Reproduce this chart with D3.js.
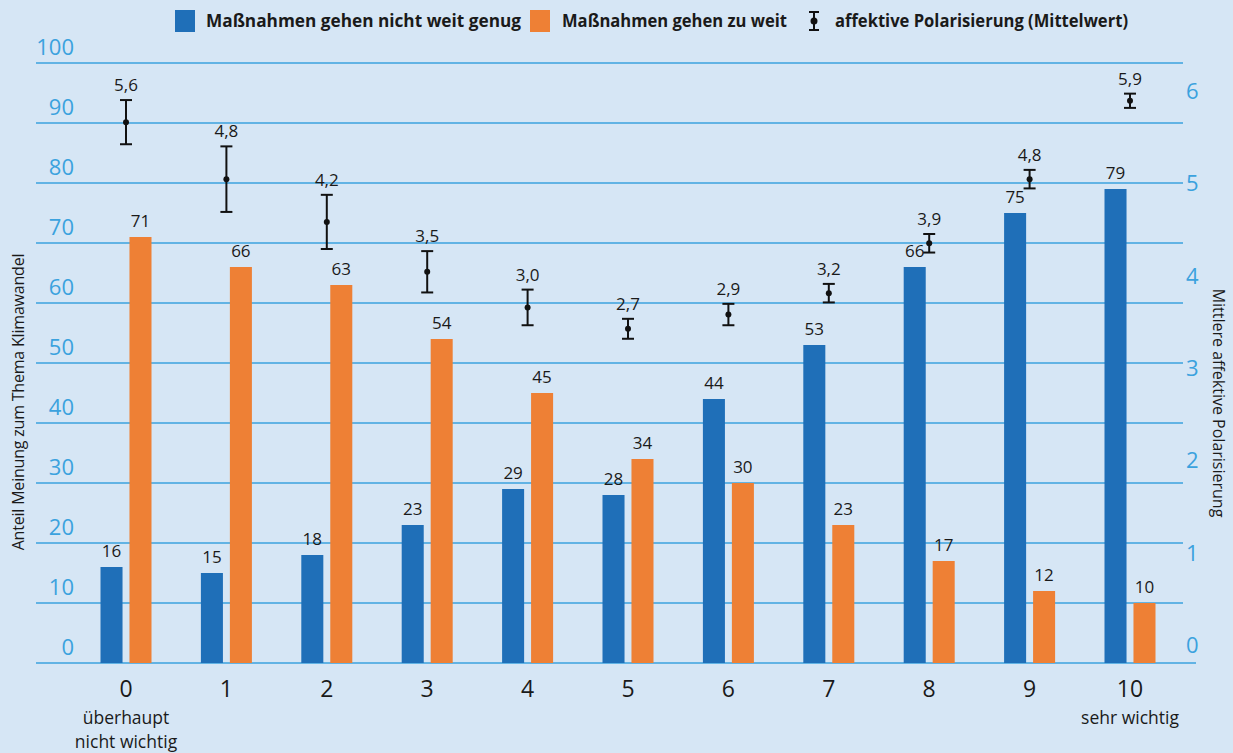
<html>

<head>
    <meta charset="utf-8">
    <title>Klimawandel Polarisierung</title>
    <style>
        body {
            margin: 0;
            background: #d6e6f5;
        }

        text {
            font-family: "Open Sans", sans-serif;
        }
    </style>
    <script src="https://cdn.jsdelivr.net/npm/d3@7"></script>
</head>

<body>
</body>
<script>
    // data
    var categories = ["0", "1", "2", "3", "4", "5", "6", "7", "8", "9", "10"];
    var nichtWeitGenug = [16, 15, 18, 23, 29, 28, 44, 53, 66, 75, 79];
    var zuWeit = [71, 66, 63, 54, 45, 34, 30, 23, 17, 12, 10];
    var polMean = [5.6, 4.8, 4.2, 3.5, 3.0, 2.7, 2.9, 3.2, 3.9, 4.8, 5.9];
    var polErr = [0.31, 0.46, 0.38, 0.29, 0.25, 0.14, 0.15, 0.13, 0.13, 0.13, 0.1];
    var leftTicks = [0, 10, 20, 30, 40, 50, 60, 70, 80, 90, 100];
    var rightTicks = [0, 1, 2, 3, 4, 5, 6];
    var seriesNames = ["Maßnahmen gehen nicht weit genug", "Maßnahmen gehen zu weit"];
    var errName = "affektive Polarisierung (Mittelwert)";

    var width = 1233,
        height = 753;
    var blue = "#1f6fb8",
        orange = "#ee8035",
        grid = "#3ba2de",
        ink = "#1a1a1a";

    var svg = d3.select("body").append("svg")
        .attr("width", width)
        .attr("height", height);

    svg.append("rect")
        .attr("width", width)
        .attr("height", height)
        .attr("fill", "#d6e6f5");

    var x = d3.scalePoint()
        .domain(categories)
        .range([126, 1130]);

    var x1 = d3.scaleBand()
        .domain(["a", "b"])
        .range([-25.5, 25.5])
        .paddingInner(0.24);

    var y = d3.scaleLinear()
        .domain([0, 100])
        .range([663, 63]);

    // right axis labels
    var yRight = d3.scaleLinear()
        .domain([0, 6.5])
        .range([663, 63]);

    // the error bars in the original sit on their own (shifted) scale
    var yPol = d3.scaleLinear()
        .domain([-1.99, 6.43])
        .range([663, 63]);

    var comma = function(v) {
        return d3.format(".1f")(v).replace(".", ",");
    };

    // gridlines
    svg.append("g").selectAll("line")
        .data(leftTicks)
        .enter()
        .append("line")
        .attr("x1", 36)
        .attr("x2", function(d) {
            return d === 0 ? 1196 : 1183;
        })
        .attr("y1", function(d) {
            return y(d);
        })
        .attr("y2", function(d) {
            return y(d);
        })
        .attr("stroke", grid)
        .attr("stroke-width", 1.4);

    // left tick labels
    svg.append("g").selectAll("text")
        .data(leftTicks)
        .enter()
        .append("text")
        .attr("x", 74)
        .attr("y", function(d) {
            return y(d) - 8;
        })
        .attr("text-anchor", "end")
        .attr("fill", grid)
        .style("font-size", "22px")
        .text(function(d) {
            return d;
        });

    // right tick labels
    svg.append("g").selectAll("text")
        .data(rightTicks)
        .enter()
        .append("text")
        .attr("x", 1186)
        .attr("y", function(d) {
            return yRight(d) - 10;
        })
        .attr("fill", grid)
        .style("font-size", "22px")
        .text(function(d) {
            return d;
        });

    // axis titles
    svg.append("text")
        .attr("transform", "translate(24,402) rotate(-90)")
        .attr("text-anchor", "middle")
        .attr("fill", ink)
        .style("font-size", "16px")
        .style("letter-spacing", "-0.2px")
        .text("Anteil Meinung zum Thema Klimawandel");

    svg.append("text")
        .attr("transform", "translate(1213,403) rotate(90)")
        .attr("text-anchor", "middle")
        .attr("fill", ink)
        .style("font-size", "16px")
        .text("Mittlere affektive Polarisierung");

    // bars
    var groups = svg.append("g").selectAll("g")
        .data(categories)
        .enter()
        .append("g")
        .attr("transform", function(d) {
            return "translate(" + x(d) + ",0)";
        });

    groups.append("rect")
        .attr("x", x1("a"))
        .attr("width", x1.bandwidth())
        .attr("y", function(d, i) {
            return y(nichtWeitGenug[i]);
        })
        .attr("height", function(d, i) {
            return y(0) - y(nichtWeitGenug[i]);
        })
        .attr("fill", blue);

    groups.append("rect")
        .attr("x", x1("b"))
        .attr("width", x1.bandwidth())
        .attr("y", function(d, i) {
            return y(zuWeit[i]);
        })
        .attr("height", function(d, i) {
            return y(0) - y(zuWeit[i]);
        })
        .attr("fill", orange);

    groups.append("text")
        .attr("x", x1("a") + x1.bandwidth() / 2)
        .attr("y", function(d, i) {
            return y(nichtWeitGenug[i]) - 10;
        })
        .attr("text-anchor", "middle")
        .attr("fill", ink)
        .style("font-size", "17px")
        .text(function(d, i) {
            return nichtWeitGenug[i];
        });

    groups.append("text")
        .attr("x", x1("b") + x1.bandwidth() / 2)
        .attr("y", function(d, i) {
            return y(zuWeit[i]) - 10;
        })
        .attr("text-anchor", "middle")
        .attr("fill", ink)
        .style("font-size", "17px")
        .text(function(d, i) {
            return zuWeit[i];
        });

    // error bars
    groups.append("line")
        .attr("y1", function(d, i) {
            return yPol(polMean[i] + polErr[i]);
        })
        .attr("y2", function(d, i) {
            return yPol(polMean[i] - polErr[i]);
        })
        .attr("stroke", "#111")
        .attr("stroke-width", 2);

    groups.append("line")
        .attr("x1", -6)
        .attr("x2", 6)
        .attr("y1", function(d, i) {
            return yPol(polMean[i] + polErr[i]);
        })
        .attr("y2", function(d, i) {
            return yPol(polMean[i] + polErr[i]);
        })
        .attr("stroke", "#111")
        .attr("stroke-width", 2);

    groups.append("line")
        .attr("x1", -6)
        .attr("x2", 6)
        .attr("y1", function(d, i) {
            return yPol(polMean[i] - polErr[i]);
        })
        .attr("y2", function(d, i) {
            return yPol(polMean[i] - polErr[i]);
        })
        .attr("stroke", "#111")
        .attr("stroke-width", 2);

    groups.append("circle")
        .attr("cy", function(d, i) {
            return yPol(polMean[i]);
        })
        .attr("r", 3)
        .attr("fill", "#111");

    groups.append("text")
        .attr("y", function(d, i) {
            return yPol(polMean[i] + polErr[i]) - 9;
        })
        .attr("text-anchor", "middle")
        .attr("fill", ink)
        .style("font-size", "17px")
        .text(function(d, i) {
            return comma(polMean[i]);
        });

    // category labels
    groups.append("text")
        .attr("y", 697)
        .attr("text-anchor", "middle")
        .attr("fill", ink)
        .style("font-size", "23px")
        .text(function(d) {
            return d;
        });

    var ends = svg.append("g")
        .attr("fill", ink)
        .attr("text-anchor", "middle")
        .style("font-size", "17.5px");
    ends.append("text")
        .attr("x", x("0"))
        .attr("y", 724)
        .text("überhaupt");
    ends.append("text")
        .attr("x", x("0"))
        .attr("y", 748)
        .text("nicht wichtig");
    ends.append("text")
        .attr("x", x("10"))
        .attr("y", 724)
        .text("sehr wichtig");

    // legend
    var legend = svg.append("g")
        .style("font-size", "17.4px")
        .style("font-weight", "bold")
        .attr("fill", ink);

    legend.append("rect")
        .attr("x", 175)
        .attr("y", 10)
        .attr("width", 20)
        .attr("height", 22)
        .attr("fill", blue);
    legend.append("text")
        .attr("x", 206)
        .attr("y", 27)
        .attr("textLength", 315)
        .attr("lengthAdjust", "spacingAndGlyphs")
        .text(seriesNames[0]);

    legend.append("rect")
        .attr("x", 530)
        .attr("y", 10)
        .attr("width", 20)
        .attr("height", 22)
        .attr("fill", orange);
    legend.append("text")
        .attr("x", 562)
        .attr("y", 27)
        .attr("textLength", 225)
        .attr("lengthAdjust", "spacingAndGlyphs")
        .text(seriesNames[1]);

    var icon = legend.append("g")
        .attr("transform", "translate(814,0)")
        .attr("stroke", "#111")
        .attr("stroke-width", 2);
    icon.append("line").attr("y1", 12).attr("y2", 30);
    icon.append("line").attr("x1", -5).attr("x2", 5).attr("y1", 12).attr("y2", 12);
    icon.append("line").attr("x1", -5).attr("x2", 5).attr("y1", 30).attr("y2", 30);
    icon.append("circle").attr("cy", 21).attr("r", 2.5).attr("fill", "#111");

    legend.append("text")
        .attr("x", 835)
        .attr("y", 27)
        .attr("textLength", 293)
        .attr("lengthAdjust", "spacingAndGlyphs")
        .text(errName);
</script>

</html>
